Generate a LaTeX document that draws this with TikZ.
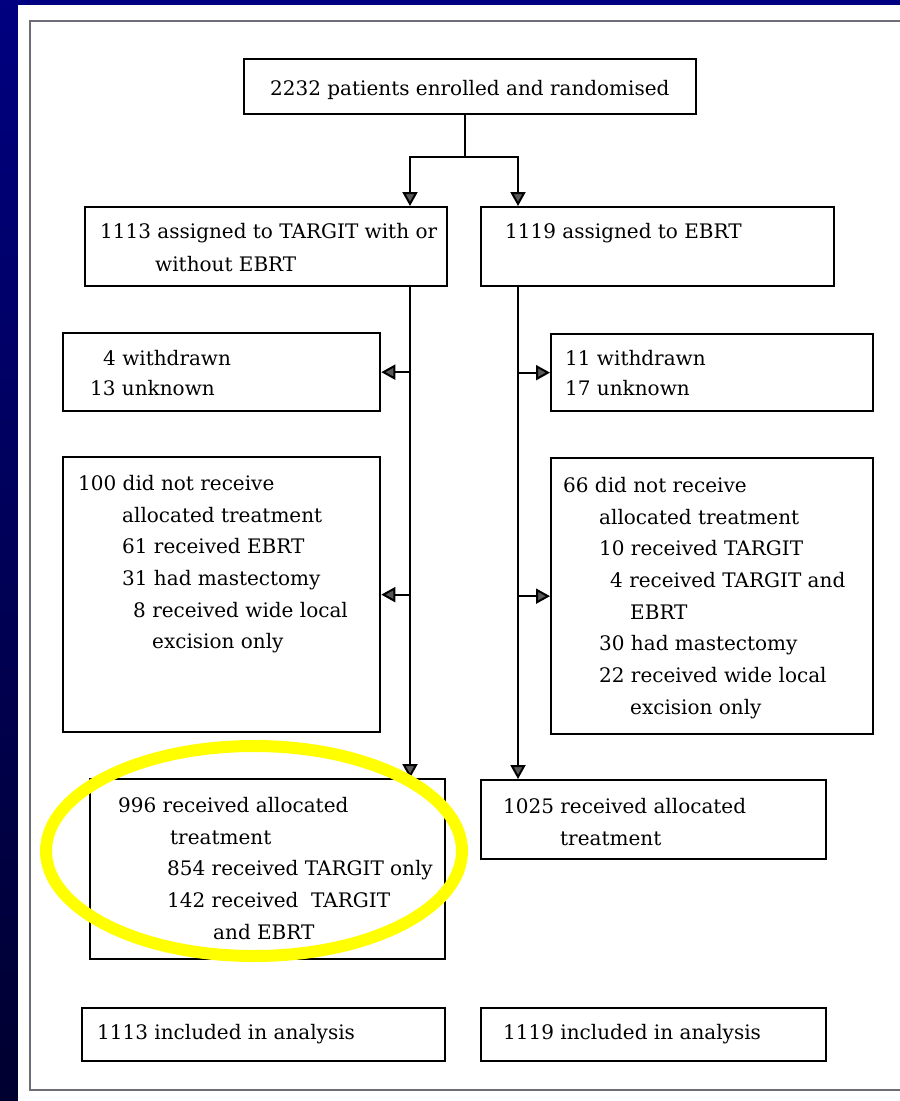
\documentclass[tikz,border=0pt]{standalone}
\usepackage{fontspec}
\setmainfont{DejaVu Serif}
\usepackage{xcolor}
\usepackage{tikz}
\usetikzlibrary{arrows.meta,positioning}
\definecolor{slideNavy}{HTML}{000080}
\definecolor{slideBlue}{HTML}{0000DD}
\definecolor{slideDeep}{HTML}{000030}
\definecolor{panelLine}{HTML}{6E6E78}
\definecolor{markYellow}{HTML}{FFFF00}
\tikzset{
  flow diagram/.style={x=1pt, y=-1pt, font=\fontsize{20}{31.7}\selectfont,
    line join=miter},
  flow box/.style={draw=black, line width=2.3pt, anchor=north west,
    inner sep=0pt},
  flow text/.style={anchor=north west, align=left, inner sep=0pt},
  flow line/.style={draw=black, line width=2pt},
  flow arrow/.style={flow line, -{Triangle[length=14pt,width=15pt,fill=black!65]}},
  flow mark/.style={draw=markYellow, line width=12pt}
}

\begin{document}
\begin{tikzpicture}[flow diagram]
\useasboundingbox (0,0) rectangle (900,1101);
\shade[top color=slideNavy, middle color=slideBlue, bottom color=slideDeep] (0,0) rectangle (900,1101);
\fill[white] (18,5) rectangle (900,1101);
\draw[panelLine, line width=1.3pt] (900,21) -- (30,21) -- (30,1090) -- (900,1090);

% boxes
\node[flow box,minimum width=452pt,minimum height=55pt] (top) at (243,58) {};
\node[flow box,minimum width=362pt,minimum height=79pt] (tL) at (84,206) {};
\node[flow box,minimum width=353pt,minimum height=79pt] (tR) at (480,206) {};
\node[flow box,minimum width=317pt,minimum height=78pt] (wdL) at (62,332) {};
\node[flow box,minimum width=322pt,minimum height=77pt] (wdR) at (550,333) {};
\node[flow box,minimum width=317pt,minimum height=275pt] (exL) at (62,456) {};
\node[flow box,minimum width=322pt,minimum height=276pt] (exR) at (550,457) {};
\node[flow box,minimum width=355pt,minimum height=180pt] (rxL) at (89,778) {};
\node[flow box,minimum width=345pt,minimum height=79pt] (rxR) at (480,779) {};
\node[flow box,minimum width=363pt,minimum height=53pt] (anL) at (81,1007) {};
\node[flow box,minimum width=345pt,minimum height=53pt] (anR) at (480,1007) {};

% texts
\node[flow text] (topT) at ([shift={(27,22)}]top.north west) {2232 patients enrolled and randomised};
\node[flow text] (tLT) at ([shift={(16,16.7)}]tL.north west) {1113 assigned to TARGIT with or\\[2pt]\hspace*{55pt}without EBRT};
\node[flow text] (tRT) at ([shift={(25,16.7)}]tR.north west) {1119 assigned to EBRT};
\node[flow text] (wdLT) at ([shift={(28,18)}]wdL.north west) {\hspace*{13pt}4 withdrawn\\[-2pt]13 unknown};
\node[flow text] (wdRT) at ([shift={(15,17)}]wdR.north west) {11 withdrawn\\[-2pt]17 unknown};
\node[flow text] (exLT) at ([shift={(16,19)}]exL.north west) {100 did not receive\\
  \hspace*{44pt}allocated treatment\\
  \hspace*{44pt}61 received EBRT\\
  \hspace*{44pt}31 had mastectomy\\
  \hspace*{55pt}8 received wide local\\
  \hspace*{74pt}excision only};
\node[flow text] (exRT) at ([shift={(13,20)}]exR.north west) {66 did not receive\\
  \hspace*{36pt}allocated treatment\\
  \hspace*{36pt}10 received TARGIT\\
  \hspace*{47pt}4 received TARGIT and\\
  \hspace*{67pt}EBRT\\
  \hspace*{36pt}30 had mastectomy\\
  \hspace*{36pt}22 received wide local\\
  \hspace*{67pt}excision only};
\node[flow text] (rxLT) at ([shift={(29,19)}]rxL.north west) {996 received allocated\\
  \hspace*{52pt}treatment\\
  \hspace*{49pt}854 received TARGIT only\\
  \hspace*{49pt}142 received\ \ TARGIT\\
  \hspace*{95pt}and EBRT};
\node[flow text] (rxRT) at ([shift={(23,19)}]rxR.north west) {1025 received allocated\\
  \hspace*{57pt}treatment};
\node[flow text] (anLT) at ([shift={(16,17)}]anL.north west) {1113 included in analysis};
\node[flow text] (anRT) at ([shift={(23,17)}]anR.north west) {1119 included in analysis};

% connectors
\coordinate (split) at (465,157);
\coordinate (lspine) at (410,0);
\coordinate (rspine) at (518,0);
\draw[flow line] (top.south -| split) -- (split);
\draw[flow arrow] (split) -| (tL.north -| lspine);
\draw[flow arrow] (split) -| (tR.north -| rspine);
\draw[flow arrow] (tL.south -| lspine) -- (rxL.north -| lspine);
\draw[flow arrow] (tR.south -| rspine) -- (rxR.north -| rspine);
\draw[flow arrow] (wdL.east -| lspine) -- (wdL.east);
\draw[flow arrow] (exL.east -| lspine) -- (exL.east);
\draw[flow arrow] (wdR.west -| rspine) -- (wdR.west);
\draw[flow arrow] (exR.west -| rspine) -- (exR.west);

% highlight
\draw[flow mark] (254,851) ellipse [x radius=208, y radius=105];
\end{tikzpicture}
\end{document}
